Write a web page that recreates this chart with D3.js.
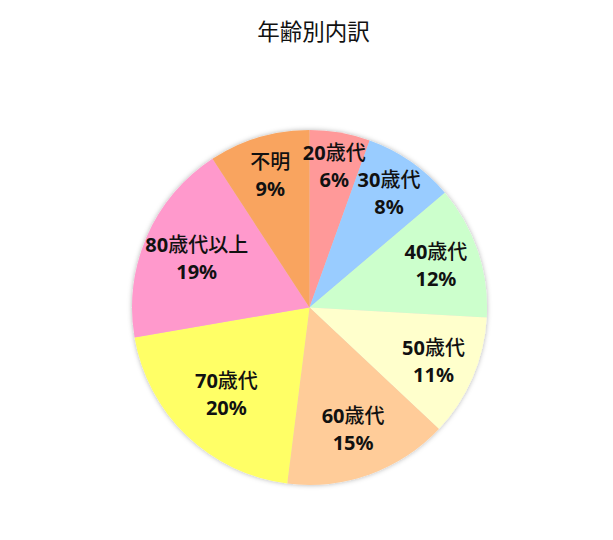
<!DOCTYPE html>
<html>
<head>
<meta charset="utf-8">
<script src="https://cdn.jsdelivr.net/npm/d3@7"></script>
<style>
  body { margin: 0; background: #fff; }
  svg { display: block; }
</style>
</head>
<body>
<svg id="chart"></svg>
<script>
// Chart data (share of each age group, %)
const categories = ['20歳代', '30歳代', '40歳代', '50歳代', '60歳代', '70歳代', '80歳代以上', '不明'];
const values = [5.5, 8.3, 12.1, 11.1, 15.0, 20.3, 18.5, 9.2];
const colors = ['#FF9999', '#99CCFF', '#CCFFCC', '#FFFFCC', '#FFCC99', '#FFFF66', '#FF99CC', '#F9A45F'];
const title = '年齢別内訳';

const width = 613, height = 540;
const cx = 309.5, cy = 307.5, radius = 177.5;

const svg = d3.select('#chart')
    .attr('width', width)
    .attr('height', height);

// soft shadow around the pie
const defs = svg.append('defs');
defs.append('filter')
    .attr('id', 'shadow')
    .attr('x', '-20%').attr('y', '-20%')
    .attr('width', '140%').attr('height', '140%')
  .append('feDropShadow')
    .attr('dx', 0).attr('dy', 0)
    .attr('stdDeviation', 2.5)
    .attr('flood-color', '#000')
    .attr('flood-opacity', 0.3);

svg.append('text')
    .attr('x', cx + 4)
    .attr('y', 40)
    .attr('text-anchor', 'middle')
    .attr('font-family', '"Noto Sans CJK JP", sans-serif')
    .attr('font-size', 22.5)
    .attr('fill', '#111')
    .text(title);

const data = categories.map((c, i) => ({ name: c, value: values[i], color: colors[i] }));
const total = d3.sum(values);

const pie = d3.pie()
    .sort(null)
    .value(d => d.value);
const arcs = pie(data);

const arc = d3.arc()
    .innerRadius(0)
    .outerRadius(radius);

// narrow slices push their label further out toward the rim (like Excel's best fit)
function labelPos(d) {
    const share = (d.endAngle - d.startAngle) / (2 * Math.PI) * 100;
    const r = radius * (0.86 - 0.009 * share);
    const a = (d.startAngle + d.endAngle) / 2;
    return [Math.sin(a) * r, -Math.cos(a) * r];
}

const chart = svg.append('g')
    .attr('transform', `translate(${cx},${cy})`);

chart.append('g')
    .attr('filter', 'url(#shadow)')
  .selectAll('path')
    .data(arcs)
  .join('path')
    .attr('d', arc)
    .attr('fill', d => d.data.color);

// split text into latin (bold) and CJK (regular) runs
function runs(str) {
    const out = [];
    for (const ch of str) {
        const cjk = /[^\x00-\x7F]/.test(ch);
        if (out.length && out[out.length - 1].cjk === cjk) out[out.length - 1].t += ch;
        else out.push({ t: ch, cjk: cjk });
    }
    return out;
}

const labels = chart.selectAll('.pie-label')
    .data(arcs)
  .join('text')
    .attr('class', 'pie-label')
    .attr('transform', d => `translate(${labelPos(d)})`)
    .attr('text-anchor', 'middle')
    .attr('font-family', '"Noto Sans", "Noto Sans CJK JP", sans-serif')
    .attr('font-size', 20)
    .attr('fill', '#111');

labels.each(function(d) {
    const t = d3.select(this);
    const pct = Math.round(d.data.value / total * 100 + 1e-9) + '%';
    const line1 = t.append('tspan').attr('x', 0).attr('y', -6);
    runs(d.data.name).forEach(r => {
        line1.append('tspan')
            .attr('font-weight', r.cjk ? 500 : 'bold')
            .attr('font-family', r.cjk ? '"Noto Sans CJK JP", sans-serif' : '"Noto Sans", sans-serif')
            .text(r.t);
    });
    t.append('tspan')
        .attr('x', 0)
        .attr('y', 21)
        .attr('font-weight', 'bold')
        .text(pct);
});
</script>
</body>
</html>
